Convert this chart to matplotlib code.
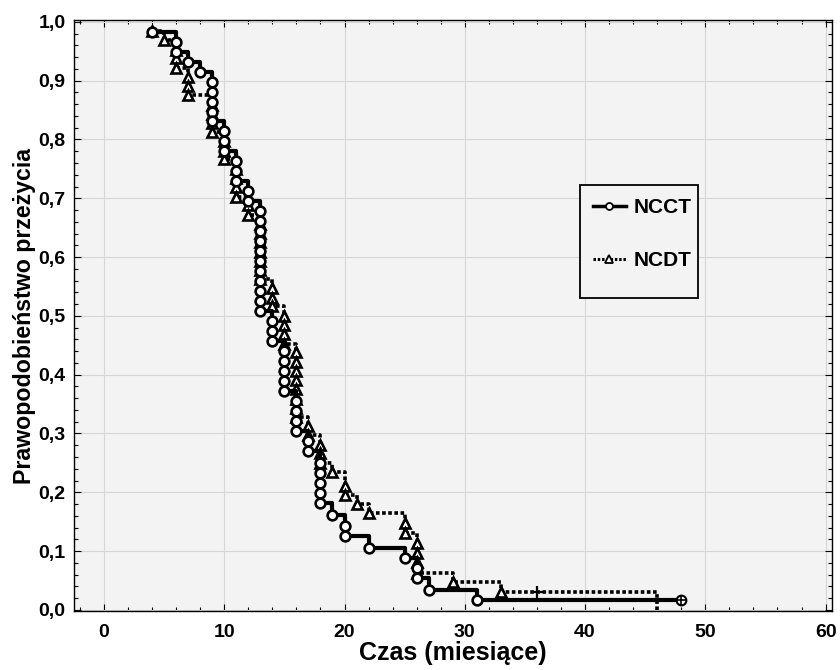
import matplotlib
matplotlib.use("Agg")
import matplotlib.pyplot as plt
from matplotlib.lines import Line2D
from matplotlib.patches import Rectangle
from matplotlib.ticker import MultipleLocator, FuncFormatter

plt.rcParams["font.family"] = ["Liberation Sans", "DejaVu Sans"]
plt.rcParams["font.weight"] = "bold"

# NCCT - one entry per event (time in months, survival after event)
ncct_time = [4, 6, 6, 7, 8, 9, 9, 9, 9, 9, 10, 10, 10, 11, 11, 11, 12, 12,
             13, 13, 13, 13, 13, 13, 13, 13, 13, 13, 13,
             14, 14, 14, 15, 15, 15, 15, 15, 16, 16, 16, 16, 17, 17,
             18, 18, 18, 18, 18, 19, 20, 20, 22, 25, 26, 26, 27, 31]
ncct_surv = [0.983, 0.966, 0.949, 0.932, 0.915, 0.898, 0.881, 0.864, 0.847, 0.831,
             0.814, 0.797, 0.780, 0.763, 0.746, 0.729, 0.712, 0.695,
             0.678, 0.661, 0.644, 0.627, 0.610, 0.593, 0.576, 0.559, 0.542, 0.525, 0.508,
             0.492, 0.475, 0.458, 0.441, 0.424, 0.407, 0.390, 0.373,
             0.356, 0.339, 0.322, 0.305, 0.288, 0.271,
             0.250, 0.233, 0.216, 0.199, 0.182, 0.162, 0.142, 0.125, 0.105,
             0.088, 0.071, 0.054, 0.034, 0.017]
ncct_cens_time = [48]
ncct_cens_surv = [0.017]

# NCDT
ncdt_time = [4, 5, 6, 6, 6, 7, 7, 7, 9, 9, 9, 9, 10, 10, 10, 11, 11, 11, 11, 12, 12,
             13, 13, 13, 13, 13, 13, 13, 14, 14, 14, 15, 15, 15, 15,
             16, 16, 16, 16, 16, 16, 16, 16, 17, 17, 18, 18, 18, 19, 20, 20, 21, 22,
             25, 25, 26, 26, 26, 26, 29, 33]
ncdt_surv = [0.984, 0.969, 0.953, 0.938, 0.922, 0.906, 0.891, 0.875,
             0.859, 0.844, 0.828, 0.812, 0.797, 0.781, 0.766,
             0.750, 0.734, 0.719, 0.703, 0.688, 0.672,
             0.656, 0.641, 0.625, 0.609, 0.594, 0.578, 0.562,
             0.547, 0.531, 0.516, 0.500, 0.484, 0.469, 0.453,
             0.438, 0.422, 0.406, 0.391, 0.375, 0.359, 0.344, 0.328,
             0.312, 0.297, 0.281, 0.266, 0.250, 0.234, 0.210, 0.195, 0.180, 0.164,
             0.147, 0.130, 0.113, 0.097, 0.081, 0.0625, 0.047, 0.031]
ncdt_cens_time = [36]
ncdt_cens_surv = [0.031]
ncdt_last_time = 46
ncdt_last_surv = 0.0

fig = plt.figure(figsize=(8.4, 6.7), dpi=100)
ax = fig.add_axes([0.088, 0.088, 0.902, 0.882])
ax.set_facecolor("#f3f3f3")

# NCDT dotted step line + triangles
ax.step(ncdt_time + ncdt_cens_time + [ncdt_last_time],
        ncdt_surv + ncdt_cens_surv + [ncdt_last_surv],
        where="post", color="black", lw=2.6, linestyle=(0, (1.0, 0.7)), zorder=3)
ax.plot(ncdt_time, ncdt_surv, linestyle="none", marker="^", ms=7.5,
        mfc="white", mec="black", mew=1.9, zorder=4)
ax.plot(ncdt_cens_time, ncdt_cens_surv, linestyle="none", marker="+", ms=8,
        mec="black", mew=1.6, zorder=4)

# NCCT solid step line + circles
ax.step(ncct_time + ncct_cens_time, ncct_surv + ncct_cens_surv,
        where="post", color="black", lw=3.0, zorder=5)
ax.plot(ncct_time, ncct_surv, linestyle="none", marker="o", ms=7,
        mfc="white", mec="black", mew=1.9, zorder=6)
ax.plot(ncct_cens_time, ncct_cens_surv, linestyle="none", marker="o", ms=7,
        mfc="white", mec="black", mew=1.5, zorder=6)
ax.plot(ncct_cens_time, ncct_cens_surv, linestyle="none", marker="+", ms=7,
        mec="black", mew=1.2, zorder=7)

ax.set_xlim(-2.5, 60.5)
ax.set_ylim(-0.002, 1.003)
ax.xaxis.set_major_locator(MultipleLocator(10))
ax.xaxis.set_minor_locator(MultipleLocator(2))
ax.yaxis.set_major_locator(MultipleLocator(0.1))
ax.yaxis.set_minor_locator(MultipleLocator(0.02))
ax.yaxis.set_major_formatter(FuncFormatter(lambda v, p: f"{v:.1f}".replace(".", ",")))
ax.tick_params(which="both", direction="in", top=True, right=True, width=0.8)
ax.tick_params(which="major", length=5, labelsize=14)
ax.tick_params(axis="x", which="major", pad=9)
ax.tick_params(axis="y", which="major", pad=6)
ax.tick_params(which="minor", length=3)
for lab in ax.get_xticklabels() + ax.get_yticklabels():
    lab.set_fontweight("bold")
ax.grid(True, which="major", color="#d6d6d6", lw=0.8, zorder=0)
for sp in ax.spines.values():
    sp.set_linewidth(1.0)

ax.set_xlabel("Czas (miesiące)", fontsize=18, fontweight="bold", labelpad=0)
ax.set_ylabel("Prawopodobieństwo przeżycia", fontsize=16.7, fontweight="bold", labelpad=2)

# legend box drawn separately (taller than its two rows, as in the original)
ax.add_patch(Rectangle((0.6675, 0.5296), 0.1557, 0.1912, transform=ax.transAxes,
                       facecolor="#f3f3f3", edgecolor="black", lw=1.3, zorder=8))
handles = [
    Line2D([], [], color="black", lw=2.5, marker="o", ms=5, mfc="white", mec="black", mew=1.3),
    Line2D([], [], color="black", lw=2.2, linestyle=(0, (0.8, 0.6)), marker="^", ms=5.5,
           mfc="white", mec="black", mew=1.3),
]
leg = ax.legend(handles, ["NCCT", "NCDT"], loc="upper left", bbox_to_anchor=(0.6556, 0.736),
                frameon=False, borderpad=0.55, labelspacing=1.65, handlelength=1.6,
                handletextpad=0.35, prop={"weight": "bold", "size": 15})
leg.set_zorder(9)

fig.savefig("out.png", dpi=100, facecolor="white")
